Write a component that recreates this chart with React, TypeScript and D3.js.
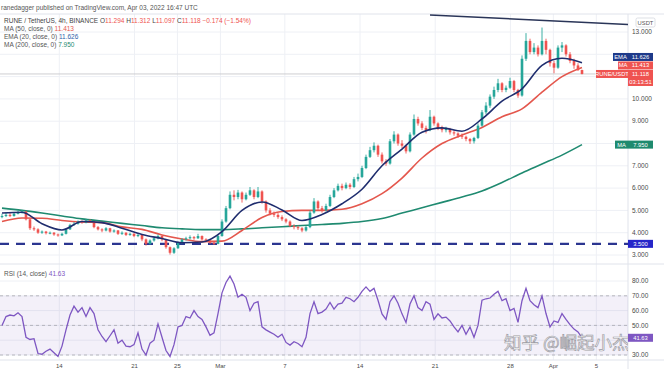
import * as d3 from 'd3';
import { useEffect, useRef } from 'react';

const W = 664;
const H = 369;

// 4h candles, open = previous close
const firstOpen = 4.7;
const closes = [
  4.75, 4.8, 4.75, 4.85, 4.9, 4.95, 4.6, 4.2, 4.15, 4.0,
  4.05, 3.98, 4.0, 3.92, 3.88, 3.95, 4.15, 4.35, 4.4, 4.5,
  4.45, 4.55, 4.5, 4.25, 4.15, 4.1, 4.2, 4.05, 4.1, 3.95,
  4.0, 3.9, 3.95, 3.85, 3.9, 3.7, 3.5, 3.65, 3.75, 3.85,
  3.7, 3.35, 3.1, 3.3, 3.55, 3.7, 3.75, 3.8, 3.75, 3.85,
  3.7, 3.65, 3.55, 3.5, 3.85, 4.5, 5.1, 5.7, 5.6, 5.8,
  5.5, 5.7, 5.9, 5.6, 5.85, 5.4, 5.0, 4.85, 4.8, 4.7,
  4.6, 4.5, 4.3, 4.25, 4.2, 4.1, 4.25, 4.9, 5.4, 5.1,
  5.0, 5.2, 5.6, 5.9, 6.1, 6.0, 6.15, 6.05, 6.4, 6.5,
  6.9, 7.4, 7.7, 7.9, 7.5, 7.2, 7.1, 8.1, 8.4, 8.0,
  7.9, 7.65, 8.4, 9.1, 8.9, 8.7, 8.6, 9.2, 8.9, 8.7,
  8.6, 8.65, 8.5, 8.45, 8.35, 8.3, 8.2, 8.1, 8.25, 8.8,
  9.4, 9.7, 10.1, 10.4, 10.7, 10.4, 10.5, 10.8, 10.4, 10.15,
  11.8, 12.6, 12.1, 12.3, 12.0, 12.6, 12.2, 11.6, 11.4, 12.3,
  12.4, 12.0, 11.7, 11.5, 11.294, 11.118
];
const highs = [
  4.85, 4.9, 4.88, 4.92, 4.98, 5.02, 4.98, 4.62, 4.28, 4.2,
  4.1, 4.08, 4.05, 4.03, 3.96, 4.0, 4.2, 4.4, 4.48, 4.55,
  4.55, 4.62, 4.6, 4.52, 4.3, 4.2, 4.25, 4.22, 4.15, 4.12,
  4.06, 4.02, 4.0, 3.98, 3.95, 3.92, 3.74, 3.7, 3.8, 3.92,
  3.88, 3.72, 3.38, 3.35, 3.6, 3.75, 3.82, 3.88, 3.85, 3.95,
  3.88, 3.75, 3.7, 3.6, 3.9, 4.6, 5.2, 5.85, 5.9, 5.92,
  5.85, 5.8, 6.05, 5.95, 6.05, 5.9, 5.45, 5.1, 4.95, 4.88,
  4.78, 4.65, 4.55, 4.38, 4.32, 4.25, 4.3, 5.0, 5.55, 5.45,
  5.2, 5.3, 5.7, 6.0, 6.2, 6.2, 6.25, 6.22, 6.5, 6.65,
  7.0, 7.5, 7.85, 8.05, 7.95, 7.6, 7.3, 8.2, 8.55, 8.45,
  8.15, 7.95, 8.5, 9.3, 9.2, 9.0, 8.8, 9.5, 9.25, 8.95,
  8.8, 8.75, 8.7, 8.6, 8.5, 8.45, 8.35, 8.25, 8.3, 8.9,
  9.5, 9.85, 10.2, 10.55, 10.9, 10.75, 10.6, 10.95, 10.85, 10.45,
  11.95, 12.95, 12.7, 12.5, 12.4, 13.2, 12.7, 12.25, 11.7, 12.4,
  12.55, 12.45, 12.1, 11.8, 11.6, 11.312
];
const lows = [
  4.65, 4.7, 4.7, 4.72, 4.82, 4.86, 4.55, 4.12, 4.08, 3.95,
  3.95, 3.92, 3.93, 3.86, 3.82, 3.85, 3.92, 4.12, 4.3, 4.36,
  4.4, 4.42, 4.44, 4.2, 4.1, 4.02, 4.06, 4.0, 4.0, 3.9,
  3.9, 3.85, 3.86, 3.8, 3.8, 3.62, 3.42, 3.46, 3.6, 3.7,
  3.62, 3.28, 3.02, 3.05, 3.28, 3.5, 3.65, 3.7, 3.68, 3.72,
  3.65, 3.58, 3.5, 3.45, 3.48, 3.82, 4.45, 5.05, 5.45, 5.5,
  5.35, 5.45, 5.65, 5.5, 5.55, 5.3, 4.9, 4.78, 4.7, 4.62,
  4.52, 4.42, 4.25, 4.15, 4.12, 4.02, 4.05, 4.2, 4.85, 5.0,
  4.9, 4.95, 5.15, 5.55, 5.85, 5.9, 5.95, 5.95, 6.0, 6.3,
  6.45, 6.85, 7.35, 7.6, 7.4, 7.1, 7.0, 7.05, 8.0, 7.9,
  7.8, 7.55, 7.6, 8.35, 8.8, 8.6, 8.45, 8.55, 8.8, 8.6,
  8.5, 8.5, 8.4, 8.35, 8.25, 8.2, 8.1, 7.98, 8.0, 8.2,
  8.75, 9.3, 9.6, 10.0, 10.3, 10.3, 10.3, 10.45, 10.3, 10.05,
  10.1, 11.7, 12.0, 12.0, 11.9, 11.95, 12.0, 11.45, 11.15, 11.35,
  12.1, 11.9, 11.6, 11.35, 11.25, 11.097
];

// moving averages, one reading every maStep candles
const maStep = 5;
const ema20 = [
  4.88, 4.92, 4.4, 4.12, 4.5, 4.45, 4.2, 3.92, 3.74, 3.55,
  3.58, 4.05, 5.0, 5.38, 5.02, 4.55, 4.82, 5.3, 5.95, 7.0,
  7.75, 8.5, 8.7, 8.55, 9.1, 9.9, 10.45, 11.5, 11.82, 11.626
];
const ma50 = [
  4.5, 4.66, 4.65, 4.55, 4.48, 4.45, 4.26, 4.15, 3.9, 3.72,
  3.6, 3.62, 4.1, 4.68, 4.95, 5.0, 5.0, 5.05, 5.3, 5.75,
  6.45, 7.35, 8.0, 8.38, 8.72, 9.2, 9.55, 10.3, 11.0, 11.413
];
const ma200 = [
  5.1, 5.0, 4.88, 4.75, 4.62, 4.52, 4.42, 4.32, 4.22, 4.17,
  4.14, 4.14, 4.17, 4.22, 4.27, 4.32, 4.37, 4.42, 4.5, 4.64,
  4.88, 5.12, 5.36, 5.6, 5.87, 6.25, 6.68, 7.08, 7.48, 7.95
];

const rsi = [
  50, 56, 57, 56.5, 58.5, 56, 42, 40.5, 41, 31,
  30.5, 32.5, 34, 31.5, 29, 36, 47, 57, 63, 59,
  62, 56, 62, 58, 47, 42.5, 39, 43, 47, 38,
  40, 36, 35.6, 37, 45, 34, 30, 38, 40, 51,
  42, 33, 29, 37, 49, 50, 56, 55, 60, 56,
  54, 49, 43.3, 45, 58, 72, 79, 83.3, 78, 69,
  71, 69, 60, 65, 66, 49, 47, 45.5, 44, 42,
  44, 38.5, 36.7, 39, 37.8, 35.6, 42, 58, 66, 58,
  59, 61, 65.5, 61, 64.4, 65, 69, 68, 66, 69,
  73, 76, 73, 75, 67, 57.8, 54, 66, 70, 65,
  57.8, 52, 64.4, 70, 62, 60, 66, 64.4, 54, 57.8,
  55, 55.6, 53, 49, 45.6, 50, 44, 48.9, 42, 50,
  67, 68, 68.5, 71, 73, 66.7, 68, 60, 61.5, 52,
  66.7, 75, 66.7, 64, 62, 70, 58, 49, 53, 52,
  58, 54, 50.5, 47.5, 45.6, 41.63
];

const priceTicks = [3, 4, 5, 6, 7, 8, 9, 10, 11, 12, 13];
const rsiTicks = [30, 40, 50, 60, 70, 80];
const rsiBands = [70, 50, 30];
const timeTicks = [
  { d: '2022-02-14', label: '14' },
  { d: '2022-02-21', label: '21' },
  { d: '2022-02-25', label: '25' },
  { d: '2022-03-01', label: 'Mar' },
  { d: '2022-03-07', label: '7' },
  { d: '2022-03-14', label: '14' },
  { d: '2022-03-21', label: '21' },
  { d: '2022-03-28', label: '28' },
  { d: '2022-04-01', label: 'Apr' },
  { d: '2022-04-05', label: '5' }
];
const trendLine = [
  { i: 107, p: 13.76 },
  { i: 156.5, p: 13.34 }
];
const support = 3.5;
const lastRsi = 41.63;

const UP = '#26a69a';
const DOWN = '#ef5350';
const NAVY = '#1f2d6e';
const RED = '#e4574d';
const GREEN = '#1f8a70';
const PURPLE = '#7e57c2';
const FONT = 'Liberation Sans, Arial, sans-serif';

export default function App() {
  const ref = useRef<SVGSVGElement>(null);

  useEffect(() => {
    const svg = d3.select(ref.current);
    svg.selectAll('*').remove();

    const axisX = 628;
    const mainTop = 14;
    const mainBottom = 264;
    const rsiBottom = 360;

    const x = d3.scaleLinear().domain([0, closes.length - 1]).range([2, 582]);
    const t = d3
      .scaleUtc()
      .domain([new Date('2022-02-08T16:00:00Z'), new Date('2022-04-03T16:00:00Z')])
      .range([2, 582]);
    const y = d3.scaleLinear().domain([3, 13]).range([255, 32]);
    const yr = d3.scaleLinear().domain([30, 80]).range([355, 281]);

    const lastClose = closes[closes.length - 1];
    const yPrice = y(lastClose);
    // y positions taken by the axis tags, tick labels under them stay hidden
    const tagYs = [yPrice, yPrice + 8, yPrice - 8.5, yPrice - 17, y(ma200[ma200.length - 1]), y(support)];
    const freeTick = (py: number, ys: number[]) => ys.every((ty) => Math.abs(ty - py) > 6);

    svg.append('rect').attr('width', W).attr('height', H).attr('fill', '#fff');

    const defs = svg.append('defs');
    defs
      .append('clipPath')
      .attr('id', 'main-clip')
      .append('rect')
      .attr('x', 0)
      .attr('y', mainTop)
      .attr('width', axisX)
      .attr('height', mainBottom - mainTop);
    defs
      .append('clipPath')
      .attr('id', 'rsi-clip')
      .append('rect')
      .attr('x', 0)
      .attr('y', mainBottom)
      .attr('width', axisX)
      .attr('height', rsiBottom - mainBottom);

    // grid
    const grid = svg.append('g').attr('stroke', '#eef0f5').attr('stroke-width', 1);
    grid
      .selectAll('.vg')
      .data(timeTicks)
      .join('line')
      .attr('x1', (d) => t(new Date(d.d)))
      .attr('x2', (d) => t(new Date(d.d)))
      .attr('y1', mainTop)
      .attr('y2', rsiBottom);
    grid
      .selectAll('.hg')
      .data(priceTicks)
      .join('line')
      .attr('x1', 0)
      .attr('x2', axisX)
      .attr('y1', (d) => y(d))
      .attr('y2', (d) => y(d));
    grid
      .selectAll('.rg')
      .data(rsiTicks)
      .join('line')
      .attr('x1', 0)
      .attr('x2', axisX)
      .attr('y1', (d) => yr(d))
      .attr('y2', (d) => yr(d));

    // pane borders
    const borders = svg.append('g').attr('stroke', '#e0e3eb').attr('stroke-width', 1);
    borders.append('line').attr('x1', 0).attr('x2', W).attr('y1', mainTop).attr('y2', mainTop);
    borders.append('line').attr('x1', 0).attr('x2', W).attr('y1', mainBottom).attr('y2', mainBottom);
    borders.append('line').attr('x1', 0).attr('x2', W).attr('y1', rsiBottom).attr('y2', rsiBottom);
    borders.append('line').attr('x1', axisX).attr('x2', axisX).attr('y1', mainTop).attr('y2', H);

    // main pane
    const main = svg.append('g').attr('clip-path', 'url(#main-clip)');

    main
      .append('line')
      .attr('x1', 0)
      .attr('x2', axisX)
      .attr('y1', yPrice)
      .attr('y2', yPrice)
      .attr('stroke', '#c8c8cc')
      .attr('stroke-width', 0.9);

    main
      .append('line')
      .attr('x1', 0)
      .attr('x2', axisX)
      .attr('y1', y(support))
      .attr('y2', y(support))
      .attr('stroke', '#2b3590')
      .attr('stroke-width', 2.4)
      .attr('stroke-dasharray', '9 7');

    const maLine = d3
      .line<number>()
      .x((d, i) => x(i * maStep))
      .y((d) => y(d))
      .curve(d3.curveMonotoneX);

    main.append('path').attr('d', maLine(ma200)).attr('fill', 'none').attr('stroke', GREEN).attr('stroke-width', 1.6);
    main.append('path').attr('d', maLine(ma50)).attr('fill', 'none').attr('stroke', RED).attr('stroke-width', 1.6);

    const candles = closes.map((c, i) => ({
      i,
      o: i === 0 ? firstOpen : closes[i - 1],
      h: highs[i],
      l: lows[i],
      c
    }));
    const cg = main.append('g');
    cg.selectAll('.wick')
      .data(candles)
      .join('line')
      .attr('x1', (d) => x(d.i))
      .attr('x2', (d) => x(d.i))
      .attr('y1', (d) => y(d.h))
      .attr('y2', (d) => y(d.l))
      .attr('stroke', (d) => (d.c >= d.o ? UP : DOWN))
      .attr('stroke-width', 0.9);
    cg.selectAll('.body')
      .data(candles)
      .join('rect')
      .attr('x', (d) => x(d.i) - 1.3)
      .attr('width', 2.6)
      .attr('y', (d) => y(Math.max(d.o, d.c)))
      .attr('height', (d) => Math.max(1, Math.abs(y(d.o) - y(d.c))))
      .attr('fill', (d) => (d.c >= d.o ? UP : DOWN));

    main.append('path').attr('d', maLine(ema20)).attr('fill', 'none').attr('stroke', NAVY).attr('stroke-width', 1.6);

    main
      .append('line')
      .attr('x1', x(trendLine[0].i))
      .attr('y1', y(trendLine[0].p))
      .attr('x2', x(trendLine[1].i))
      .attr('y2', y(trendLine[1].p))
      .attr('stroke', '#2a3558')
      .attr('stroke-width', 1.5);

    // rsi pane
    const rp = svg.append('g').attr('clip-path', 'url(#rsi-clip)');
    rp.append('rect')
      .attr('x', 0)
      .attr('width', axisX)
      .attr('y', yr(70))
      .attr('height', yr(30) - yr(70))
      .attr('fill', PURPLE)
      .attr('fill-opacity', 0.09);
    rp.selectAll('.band')
      .data(rsiBands)
      .join('line')
      .attr('x1', 0)
      .attr('x2', axisX)
      .attr('y1', (d) => yr(d))
      .attr('y2', (d) => yr(d))
      .attr('stroke', '#a8a8b0')
      .attr('stroke-width', 0.8)
      .attr('stroke-dasharray', '3 3');
    const rsiLine = d3
      .line<number>()
      .x((d, i) => x(i))
      .y((d) => yr(d));
    rp.append('path').attr('d', rsiLine(rsi)).attr('fill', 'none').attr('stroke', PURPLE).attr('stroke-width', 1.3);

    // watermark, kept inside the plot area
    rp.append('text')
      .attr('x', 504)
      .attr('y', 349)
      .attr('font-family', 'Noto Sans CJK SC')
      .attr('font-size', 17.5)
      .attr('fill', '#fff')
      .attr('fill-opacity', 0.95)
      .attr('stroke', '#9c9ca4')
      .attr('stroke-width', 0.7)
      .text('知乎 @崛起小杰');

    // axes
    const ax = svg.append('g').attr('font-family', FONT).attr('font-size', 6.5).attr('fill', '#4a4a4a');
    ax.selectAll('.pt')
      .data(priceTicks.filter((d) => freeTick(y(d), tagYs)))
      .join('text')
      .attr('x', 632)
      .attr('y', (d) => y(d))
      .attr('dy', '0.35em')
      .text((d) => d.toFixed(3));
    ax.selectAll('.rt')
      .data(rsiTicks.filter((d) => freeTick(yr(d), [yr(lastRsi)])))
      .join('text')
      .attr('x', 632)
      .attr('y', (d) => yr(d))
      .attr('dy', '0.35em')
      .text((d) => d.toFixed(2));
    ax.selectAll('.tt')
      .data(timeTicks)
      .join('text')
      .attr('x', (d) => t(new Date(d.d)))
      .attr('y', 367.5)
      .attr('text-anchor', 'middle')
      .attr('font-size', 6)
      .text((d) => d.label);

    // USDT box
    svg
      .append('rect')
      .attr('x', 636)
      .attr('y', 18)
      .attr('width', 19)
      .attr('height', 9)
      .attr('rx', 1.5)
      .attr('fill', '#fff')
      .attr('stroke', '#cfd2da')
      .attr('stroke-width', 0.7);
    svg
      .append('text')
      .attr('x', 645.5)
      .attr('y', 22.5)
      .attr('dy', '0.35em')
      .attr('text-anchor', 'middle')
      .attr('font-family', FONT)
      .attr('font-size', 5.8)
      .attr('fill', '#555')
      .text('USDT');

    // axis tags
    const tag = (left: number, yc: number, name: string, value: string, bg: string, h = 8) => {
      const g = svg.append('g').attr('font-family', FONT).attr('font-size', 5.8).attr('fill', '#fff');
      if (name) {
        g.append('rect')
          .attr('x', left)
          .attr('y', yc - 4)
          .attr('width', axisX - left)
          .attr('height', 8)
          .attr('fill', bg);
        g.append('text')
          .attr('x', (left + axisX) / 2)
          .attr('y', yc)
          .attr('dy', '0.35em')
          .attr('text-anchor', 'middle')
          .text(name);
      }
      g.append('rect')
        .attr('x', axisX)
        .attr('y', yc - 4)
        .attr('width', 25)
        .attr('height', h)
        .attr('fill', bg);
      g.append('text')
        .attr('x', axisX + 12.5)
        .attr('y', yc)
        .attr('dy', '0.35em')
        .attr('text-anchor', 'middle')
        .text(value);
      return g;
    };

    tag(596, yPrice, 'RUNE/USDT', lastClose.toFixed(3), DOWN, 16)
      .append('text')
      .attr('x', axisX + 12.5)
      .attr('y', yPrice + 8)
      .attr('dy', '0.35em')
      .attr('text-anchor', 'middle')
      .text('03:13:51');
    tag(618, yPrice - 8.5, 'MA', ma50[ma50.length - 1].toFixed(3), DOWN);
    tag(613, yPrice - 17, 'EMA', ema20[ema20.length - 1].toFixed(3), '#1e3a8a');
    tag(615, y(ma200[ma200.length - 1]), 'MA', ma200[ma200.length - 1].toFixed(3), '#1e8a6e');
    tag(0, y(support), '', support.toFixed(3), '#2626c9');
    tag(0, yr(lastRsi), '', lastRsi.toFixed(2), PURPLE);

    // header & legends
    const txt = svg.append('g').attr('font-family', FONT).attr('font-size', 6.5).attr('fill', '#555');
    txt.append('text').attr('x', 1).attr('y', 10).text('ranedagger published on TradingView.com, Apr 03, 2022 16:47 UTC');

    const l1 = txt.append('text').attr('x', 4).attr('y', 23).attr('fill', '#444');
    l1.append('tspan').text('RUNE / TetherUS, 4h, BINANCE  ');
    const last = candles[candles.length - 1];
    [
      ['O', last.o.toFixed(3)],
      ['H', last.h.toFixed(3)],
      ['L', last.l.toFixed(3)],
      ['C', last.c.toFixed(3)]
    ].forEach(([k, v]) => {
      l1.append('tspan').text(k);
      l1.append('tspan').attr('fill', DOWN).text(v + ' ');
    });
    l1.append('tspan').attr('fill', DOWN).text('−0.174 (−1.54%)');

    const legends: [string, string, string][] = [
      ['MA (50, close, 0)', ma50[ma50.length - 1].toFixed(3), RED],
      ['EMA (20, close, 0)', ema20[ema20.length - 1].toFixed(3), '#2f5fa8'],
      ['MA (200, close, 0)', ma200[ma200.length - 1].toFixed(3), GREEN]
    ];
    legends.forEach(([name, v, c], k) => {
      const tl = txt.append('text').attr('x', 4).attr('y', 31 + k * 8);
      tl.append('tspan').text(name + '  ');
      tl.append('tspan').attr('fill', c).text(v);
    });

    const rl = txt.append('text').attr('x', 4).attr('y', 276);
    rl.append('tspan').text('RSI (14, close)  ');
    rl.append('tspan').attr('fill', PURPLE).text(lastRsi.toFixed(2));
  }, []);

  return <svg ref={ref} width={W} height={H} style={{ position: 'absolute', left: 0, top: 0 }} />;
}
